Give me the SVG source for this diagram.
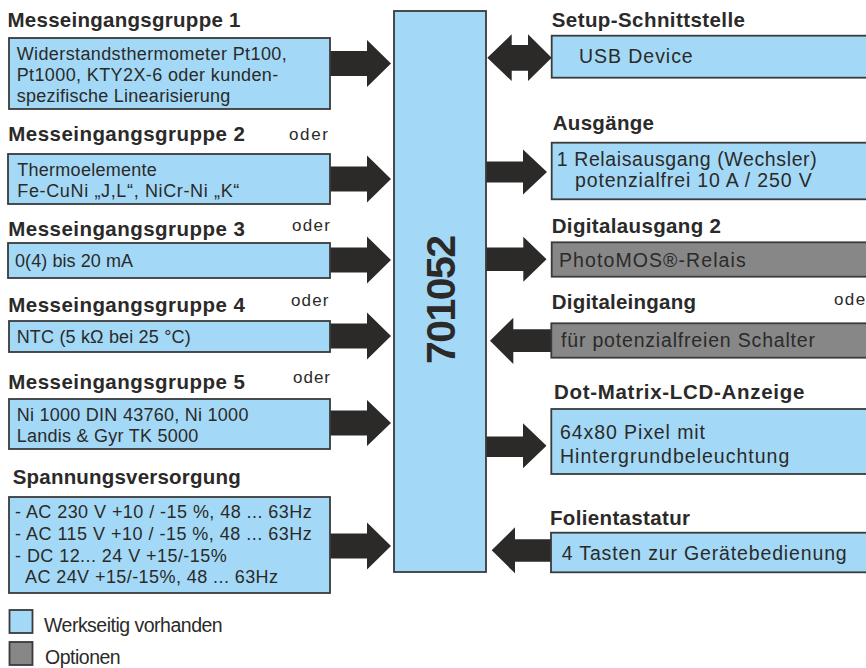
<svg xmlns="http://www.w3.org/2000/svg" width="866" height="668" viewBox="0 0 866 668">
<style>
.box{fill:#a3d9f6;stroke:#3a3a3a;stroke-width:1.8}
.opt{fill:#878787;stroke:#3a3a3a;stroke-width:1.8}
.arr{fill:#2b2a28}
text{font-family:"Liberation Sans",Arial,Helvetica,sans-serif;fill:#2b2a29}
.h{font-size:20.5px;font-weight:bold}
.b{font-size:18px}
.r{font-size:19.5px}
.o{font-size:17px}
.big{font-size:41px;font-weight:bold}
</style>
<rect width="866" height="668" fill="#ffffff"/>
<g id="connectors">
<path class="arr" d="M329 51 H367 V40 L391 63.5 L367 87 V76 H329 Z"/>
<path class="arr" d="M329 166.5 H367 V155.5 L391 179 L367 202.5 V191.5 H329 Z"/>
<path class="arr" d="M329 247.5 H367 V236.5 L391 260 L367 283.5 V272.5 H329 Z"/>
<path class="arr" d="M329 323.5 H367 V312.5 L391 336 L367 359.5 V348.5 H329 Z"/>
<path class="arr" d="M329 410.5 H367 V400 L391 423 L367 446 V435.5 H329 Z"/>
<path class="arr" d="M329 533.5 H367 V522.5 L391 546 L367 569.5 V558.5 H329 Z"/>
<path class="arr" d="M487.3 57.7 L511.7 34.3 V45 H528 V34.3 L551.7 57.7 L528 81 V70.7 H511.7 V81 Z"/>
<path class="arr" d="M485 161.5 H523 V149.5 L547 172 L523 194.5 V182.5 H485 Z"/>
<path class="arr" d="M485 247.5 H523.3 V236.7 L546.5 259.2 L523.3 281.7 V271 H485 Z"/>
<path class="arr" d="M552 329.3 H513.3 V317.7 L490 340.8 L513.3 364 V352 H552 Z"/>
<path class="arr" d="M485 436.5 H523 V423.3 L546.5 445.8 L523 468.3 V457 H485 Z"/>
<path class="arr" d="M552 539.3 H515 V527.3 L491.7 550.3 L515 573.3 V561.7 H552 Z"/>
</g>
<g id="core">
<rect class="box" x="394" y="11" width="92" height="561"/>
<text class="big" transform="translate(455 299.5) rotate(-90)" text-anchor="middle" textLength="129" lengthAdjust="spacing">701052</text>
</g>
<g id="mg1">
<text class="h" x="7.5" y="27" textLength="233" lengthAdjust="spacing">Messeingangsgruppe 1</text>
<rect class="box" x="9" y="38" width="321" height="71"/>
<text class="b" x="16.7" y="59.5" textLength="270" lengthAdjust="spacing">Widerstandsthermometer Pt100,</text>
<text class="b" x="16.7" y="81" textLength="261.5" lengthAdjust="spacing">Pt1000, KTY2X-6 oder kunden-</text>
<text class="b" x="16.7" y="101.5" textLength="213.5" lengthAdjust="spacing">spezifische Linearisierung</text>
</g>
<g id="mg2">
<text class="h" x="8.3" y="141" textLength="236.5" lengthAdjust="spacing">Messeingangsgruppe 2</text>
<text class="o" x="289" y="140" textLength="39" lengthAdjust="spacing">oder</text>
<rect class="box" x="8" y="154" width="322" height="50"/>
<text class="b" x="17.3" y="175.7" textLength="139.5" lengthAdjust="spacing">Thermoelemente</text>
<text class="b" x="17.3" y="196.7" textLength="222" lengthAdjust="spacing">Fe-CuNi „J,L“, NiCr-Ni „K“</text>
</g>
<g id="mg3">
<text class="h" x="8.3" y="236" textLength="236.5" lengthAdjust="spacing">Messeingangsgruppe 3</text>
<text class="o" x="292" y="230.7" textLength="38" lengthAdjust="spacing">oder</text>
<rect class="box" x="8" y="243" width="322" height="35"/>
<text class="b" x="15" y="267" textLength="118" lengthAdjust="spacing">0(4) bis 20 mA</text>
</g>
<g id="mg4">
<text class="h" x="8.3" y="311.7" textLength="236.5" lengthAdjust="spacing">Messeingangsgruppe 4</text>
<text class="o" x="291" y="306" textLength="37.5" lengthAdjust="spacing">oder</text>
<rect class="box" x="9" y="321" width="321" height="31"/>
<text class="b" x="16.7" y="343.3" textLength="174" lengthAdjust="spacing">NTC (5 kΩ bei 25 °C)</text>
</g>
<g id="mg5">
<text class="h" x="8.3" y="389.3" textLength="236.5" lengthAdjust="spacing">Messeingangsgruppe 5</text>
<text class="o" x="293" y="383" textLength="37" lengthAdjust="spacing">oder</text>
<rect class="box" x="9" y="399" width="321" height="50"/>
<text class="b" x="16.7" y="421" textLength="231.7" lengthAdjust="spacing">Ni 1000 DIN 43760, Ni 1000</text>
<text class="b" x="16.7" y="441.7" textLength="181.5" lengthAdjust="spacing">Landis &amp; Gyr TK 5000</text>
</g>
<g id="power">
<text class="h" x="12.7" y="484" textLength="228" lengthAdjust="spacing">Spannungsversorgung</text>
<rect class="box" x="9" y="497" width="321" height="96"/>
<text class="b" x="15" y="518.3" textLength="296.7" lengthAdjust="spacing">- AC 230 V +10 / -15 %, 48 ... 63Hz</text>
<text class="b" x="15" y="540" textLength="296.7" lengthAdjust="spacing">- AC 115 V +10 / -15 %, 48 ... 63Hz</text>
<text class="b" x="15" y="561.7" textLength="211.7" lengthAdjust="spacing">- DC 12... 24 V +15/-15%</text>
<text class="b" x="25" y="582.7" textLength="253" lengthAdjust="spacing">AC 24V +15/-15%, 48 ... 63Hz</text>
</g>
<g id="legend">
<rect class="box" x="9.5" y="610" width="23" height="23"/>
<text class="r" x="44" y="632" textLength="178.7" lengthAdjust="spacing">Werkseitig vorhanden</text>
<rect class="opt" x="9.5" y="642" width="23" height="23"/>
<text class="r" x="45" y="664" textLength="75.7" lengthAdjust="spacing">Optionen</text>
</g>
<g id="setup">
<text class="h" x="551.7" y="26.7" textLength="193.3" lengthAdjust="spacing">Setup-Schnittstelle</text>
<rect class="box" x="551.7" y="35.7" width="330" height="42"/>
<text class="r" x="579" y="63.3" textLength="113.7" lengthAdjust="spacing">USB Device</text>
</g>
<g id="ausgaenge">
<text class="h" x="552.7" y="130" textLength="101.3" lengthAdjust="spacing">Ausgänge</text>
<rect class="box" x="551.7" y="142.7" width="330" height="56.6"/>
<text class="r" x="556.7" y="165.7" textLength="260" lengthAdjust="spacing">1 Relaisausgang (Wechsler)</text>
<text class="r" x="575" y="186.7" textLength="236.7" lengthAdjust="spacing">potenzialfrei 10 A / 250 V</text>
</g>
<g id="digout">
<text class="h" x="551.7" y="232.7" textLength="169.3" lengthAdjust="spacing">Digitalausgang 2</text>
<rect class="opt" x="551.7" y="242.3" width="330" height="34.4"/>
<text class="r" x="559" y="267.3" textLength="186.7" lengthAdjust="spacing">PhotoMOS®-Relais</text>
</g>
<g id="digin">
<text class="h" x="551.7" y="309.3" textLength="144.3" lengthAdjust="spacing">Digitaleingang</text>
<text class="o" x="834" y="305" letter-spacing="1.4">oder</text>
<rect class="opt" x="551.3" y="323.3" width="330" height="34.4"/>
<text class="r" x="561" y="347.3" textLength="254" lengthAdjust="spacing">für potenzialfreien Schalter</text>
</g>
<g id="lcd">
<text class="h" x="554" y="399.3" textLength="250.3" lengthAdjust="spacing">Dot-Matrix-LCD-Anzeige</text>
<rect class="box" x="551.3" y="409" width="330" height="65"/>
<text class="r" x="560" y="439.3" textLength="145" lengthAdjust="spacing">64x80 Pixel mit</text>
<text class="r" x="560" y="463.3" textLength="229.3" lengthAdjust="spacing">Hintergrundbeleuchtung</text>
</g>
<g id="tastatur">
<text class="h" x="550" y="525" textLength="140" lengthAdjust="spacing">Folientastatur</text>
<rect class="box" x="551" y="532.7" width="330" height="39.6"/>
<text class="r" x="561.7" y="560" textLength="285" lengthAdjust="spacing">4 Tasten zur Gerätebedienung</text>
</g>
</svg>
